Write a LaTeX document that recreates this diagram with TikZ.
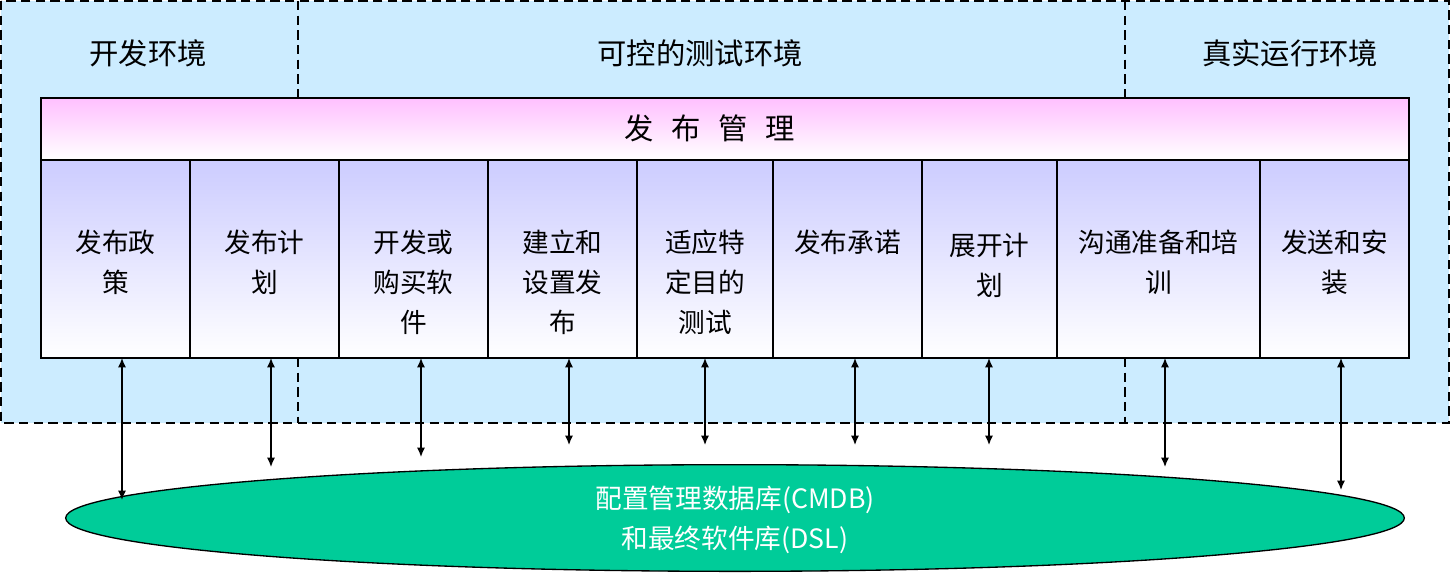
\documentclass[tikz,border=0pt]{standalone}
\usepackage{fontspec}
\setmainfont{Noto Sans CJK SC}
\usetikzlibrary{arrows.meta,shapes.geometric}
\begin{document}
\begin{tikzpicture}[x=0.75pt,y=-0.75pt,
  dashln/.style={draw=black,line width=1.3pt,dash pattern=on 7pt off 4pt},
  col/.style={draw=black,line width=1.2pt,top color=lav,bottom color=white},
  coltext/.style={font=\fontsize{20}{30}\selectfont,align=center,anchor=north,inner sep=0pt},
  envtext/.style={font=\fontsize{22}{28}\selectfont},
  dbl/.style={{Latex[length=7pt,width=6pt]}-{Latex[length=7pt,width=6pt]},line width=1pt}]
\definecolor{bgblue}{HTML}{CCECFF}
\definecolor{lav}{HTML}{CCCCFF}
\definecolor{pinkc}{HTML}{FFC0FF}
\definecolor{dbgreen}{HTML}{00CC99}
\useasboundingbox (0,0) rectangle (1451,576);
\fill[white] (0,0) rectangle (1451,576);
\path[fill=bgblue,dashln] (1,1) rectangle (1449,423);
\draw[dashln] (298,1) -- (298,98);
\draw[dashln] (298,358) -- (298,423);
\draw[dashln] (1125,1) -- (1125,98);
\draw[dashln] (1125,358) -- (1125,423);
\node[envtext] (e1) at (148,53) {开发环境};
\node[envtext] (e2) at (700,53) {可控的测试环境};
\node[envtext] (e3) at (1290,53) {真实运行环境};
\shade[draw=black,line width=1.2pt,top color=pinkc,bottom color=white] (41,98) rectangle (1409,160);
\node[font=\fontsize{22}{28}\selectfont] (hdr) at (710,128) {发\hspace{0.6em}布\hspace{0.6em}管\hspace{0.6em}理};
\def\xs{{41,190,339,488,637,773,922,1057,1260,1409}}
\foreach \i/\t/\yy in {0/{发布政\\策}/230,1/{发布计\\划}/230,2/{开发或\\购买软\\件}/230,3/{建立和\\设置发\\布}/230,4/{适应特\\定目的\\测试}/230,5/{发布承诺}/230,6/{展开计\\划}/233,7/{沟通准备和培\\训}/230,8/{发送和安\\装}/230}{
  \pgfmathsetmacro\xa{\xs[\i]}
  \pgfmathsetmacro\xb{\xs[\i+1]}
  \shade[col] (\xa,160) rectangle (\xb,358);
  \node[coltext] (c\i) at ({(\xa+\xb)/2},\yy) {\t};
}
\node[ellipse,draw=black,line width=1pt,fill=dbgreen,minimum width=1004pt,minimum height=80pt,inner sep=0pt] (db) at (735,518) {};
\node[white,font=\fontsize{20}{30}\selectfont,align=center] (dbt) at (735,520) {配置管理数据库(CMDB)\\和最终软件库(DSL)};
\foreach \x/\y [count=\k] in {122/500,271/467,421/457,569/445,705/445,855/445,989/445,1165/467,1341/490}{
  \coordinate (a\k) at (\x,358);
  \coordinate (b\k) at (\x,\y);
  \draw[dbl] (a\k) -- (b\k);
}
\end{tikzpicture}
\end{document}
